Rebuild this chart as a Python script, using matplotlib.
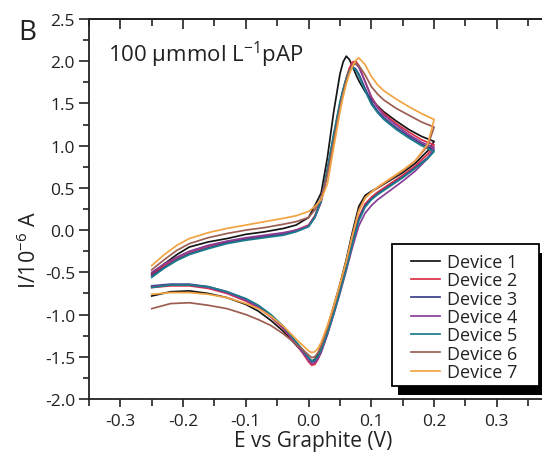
import matplotlib
matplotlib.use("Agg")
import matplotlib.pyplot as plt
from matplotlib.patches import Rectangle
from matplotlib.ticker import MultipleLocator, FormatStrFormatter

plt.rcParams['font.family'] = ['Open Sans', 'DejaVu Sans']
plt.rcParams['mathtext.fontset'] = 'custom'
plt.rcParams['mathtext.rm'] = 'Open Sans'
plt.rcParams['mathtext.it'] = 'Open Sans'
plt.rcParams['mathtext.default'] = 'regular'

# potentials (V) of the forward and reverse scans
forward_x = [-0.25, -0.23, -0.21, -0.19, -0.16, -0.13, -0.10, -0.07, -0.04, -0.02,
             0.0, 0.01, 0.02, 0.03, 0.04, 0.05, 0.055, 0.06, 0.065, 0.07,
             0.075, 0.08, 0.09, 0.10, 0.11, 0.12, 0.14, 0.16, 0.18, 0.20]
reverse_x = [0.20, 0.19, 0.17, 0.15, 0.13, 0.11, 0.10, 0.09, 0.08, 0.07,
             0.06, 0.05, 0.04, 0.03, 0.02, 0.015, 0.01, 0.005, 0.0, -0.01,
             -0.02, -0.04, -0.06, -0.08, -0.10, -0.13, -0.16, -0.19, -0.22, -0.25]

# currents (1e-6 A), forward scan
dev1_fwd = [-0.52, -0.40, -0.29, -0.20, -0.14, -0.10, -0.05, -0.02, 0.02, 0.06,
            0.15, 0.29, 0.44, 0.86, 1.40, 1.85, 1.99, 2.06, 2.02, 1.94,
            1.85, 1.77, 1.64, 1.55, 1.47, 1.40, 1.29, 1.19, 1.11, 1.05]
dev2_fwd = [-0.53, -0.42, -0.33, -0.26, -0.19, -0.14, -0.10, -0.07, -0.04, 0.0,
            0.06, 0.17, 0.36, 0.70, 1.10, 1.48, 1.65, 1.80, 1.92, 1.99,
            2.00, 1.95, 1.76, 1.58, 1.46, 1.38, 1.26, 1.16, 1.07, 1.01]
dev3_fwd = [-0.54, -0.44, -0.35, -0.28, -0.21, -0.15, -0.11, -0.08, -0.05, -0.01,
            0.05, 0.16, 0.36, 0.72, 1.12, 1.50, 1.66, 1.79, 1.89, 1.93,
            1.91, 1.85, 1.68, 1.52, 1.41, 1.33, 1.21, 1.11, 1.02, 0.95]
dev4_fwd = [-0.50, -0.40, -0.32, -0.25, -0.18, -0.13, -0.09, -0.06, -0.03, 0.0,
            0.05, 0.15, 0.33, 0.66, 1.05, 1.44, 1.62, 1.77, 1.89, 1.96,
            1.97, 1.93, 1.76, 1.57, 1.45, 1.36, 1.24, 1.13, 1.04, 0.98]
dev5_fwd = [-0.56, -0.45, -0.36, -0.29, -0.22, -0.16, -0.12, -0.09, -0.06, -0.02,
            0.04, 0.15, 0.35, 0.72, 1.14, 1.52, 1.67, 1.80, 1.89, 1.92,
            1.90, 1.83, 1.65, 1.49, 1.39, 1.31, 1.19, 1.09, 1.00, 0.93]
dev6_fwd = [-0.47, -0.35, -0.24, -0.16, -0.09, -0.04, 0.0, 0.03, 0.07, 0.10,
            0.15, 0.24, 0.38, 0.66, 1.05, 1.45, 1.62, 1.77, 1.88, 1.95,
            1.97, 1.95, 1.84, 1.70, 1.61, 1.54, 1.44, 1.36, 1.28, 1.22]
dev7_fwd = [-0.42, -0.29, -0.18, -0.10, -0.03, 0.02, 0.06, 0.10, 0.14, 0.17,
            0.22, 0.28, 0.36, 0.55, 0.98, 1.40, 1.58, 1.73, 1.85, 1.94,
            2.01, 2.04, 1.96, 1.82, 1.72, 1.65, 1.55, 1.46, 1.38, 1.31]

# currents (1e-6 A), reverse scan
dev1_rev = [1.05, 0.94, 0.79, 0.68, 0.59, 0.50, 0.46, 0.41, 0.28, -0.02,
            -0.35, -0.64, -0.90, -1.15, -1.38, -1.47, -1.53, -1.55, -1.52, -1.44,
            -1.36, -1.20, -1.07, -0.96, -0.88, -0.80, -0.75, -0.72, -0.73, -0.78]
dev2_rev = [1.01, 0.90, 0.76, 0.65, 0.55, 0.45, 0.39, 0.31, 0.15, -0.12,
            -0.42, -0.70, -0.97, -1.22, -1.44, -1.53, -1.59, -1.60, -1.56, -1.45,
            -1.35, -1.17, -1.03, -0.92, -0.84, -0.75, -0.69, -0.66, -0.66, -0.68]
dev3_rev = [0.95, 0.86, 0.74, 0.63, 0.53, 0.43, 0.37, 0.29, 0.13, -0.14,
            -0.44, -0.72, -0.98, -1.22, -1.43, -1.50, -1.55, -1.56, -1.52, -1.42,
            -1.33, -1.15, -1.01, -0.90, -0.82, -0.73, -0.67, -0.64, -0.64, -0.66]
dev4_rev = [0.98, 0.85, 0.70, 0.58, 0.47, 0.36, 0.29, 0.20, 0.05, -0.20,
            -0.48, -0.75, -1.00, -1.24, -1.45, -1.52, -1.57, -1.58, -1.54, -1.44,
            -1.34, -1.16, -1.02, -0.91, -0.83, -0.74, -0.68, -0.65, -0.65, -0.67]
dev5_rev = [0.93, 0.85, 0.73, 0.62, 0.52, 0.42, 0.36, 0.27, 0.11, -0.16,
            -0.46, -0.73, -0.99, -1.22, -1.42, -1.49, -1.54, -1.55, -1.51, -1.41,
            -1.32, -1.14, -1.00, -0.89, -0.81, -0.73, -0.67, -0.65, -0.65, -0.68]
dev6_rev = [1.22, 1.00, 0.82, 0.70, 0.60, 0.50, 0.45, 0.38, 0.24, -0.05,
            -0.37, -0.65, -0.92, -1.16, -1.37, -1.45, -1.50, -1.51, -1.48, -1.41,
            -1.35, -1.23, -1.13, -1.06, -1.00, -0.93, -0.89, -0.86, -0.87, -0.93]
dev7_rev = [1.31, 1.02, 0.82, 0.71, 0.61, 0.51, 0.45, 0.38, 0.22, -0.06,
            -0.37, -0.64, -0.90, -1.13, -1.33, -1.40, -1.44, -1.45, -1.43, -1.36,
            -1.29, -1.14, -1.02, -0.93, -0.87, -0.80, -0.76, -0.74, -0.74, -0.76]

labels = ['Device 1', 'Device 2', 'Device 3', 'Device 4', 'Device 5', 'Device 6', 'Device 7']
colors = ['#151515', '#dc2f45', '#3c3f86', '#8a3d98', '#1b7d8c', '#9c5e52', '#f2a443']
fwd = [dev1_fwd, dev2_fwd, dev3_fwd, dev4_fwd, dev5_fwd, dev6_fwd, dev7_fwd]
rev = [dev1_rev, dev2_rev, dev3_rev, dev4_rev, dev5_rev, dev6_rev, dev7_rev]

W, H = 542, 460
INK = '#222222'
fig = plt.figure(figsize=(W / 100, H / 100), dpi=100)
# the original is cropped on the right, so the axes run to the picture edge
ax = fig.add_axes([89 / W, 60 / H, 453 / W, 380 / H])

for lab, c, f, r in zip(labels, colors, fwd, rev):
    ax.plot(forward_x + reverse_x, f + r, color=c, lw=1.25, label=lab)

ax.set_xlim(-0.35, 0.372)
ax.set_ylim(-2.0, 2.5)
ax.xaxis.set_major_locator(MultipleLocator(0.1))
ax.xaxis.set_minor_locator(MultipleLocator(0.05))
ax.yaxis.set_major_locator(MultipleLocator(0.5))
ax.yaxis.set_minor_locator(MultipleLocator(0.25))
ax.xaxis.set_major_formatter(FormatStrFormatter('%.1f'))
ax.yaxis.set_major_formatter(FormatStrFormatter('%.1f'))

ax.spines['right'].set_visible(False)
for s in ['left', 'bottom', 'top']:
    ax.spines[s].set_linewidth(1.3)
    ax.spines[s].set_color(INK)

ax.tick_params(axis='x', which='both', bottom=True, top=False, direction='out',
               colors=INK, labelsize=12.5, width=1.2)
ax.tick_params(axis='x', which='major', length=6, pad=4)
ax.tick_params(axis='x', which='minor', length=5)
ax.tick_params(axis='y', which='both', left=True, right=False, direction='out',
               colors=INK, labelsize=12.5, width=1.2)
ax.tick_params(axis='y', which='major', length=7, pad=3)
ax.tick_params(axis='y', which='minor', length=4)

# top ticks point into the plot
top = ax.secondary_xaxis('top')
top.xaxis.set_major_locator(MultipleLocator(0.1))
top.xaxis.set_minor_locator(MultipleLocator(0.05))
top.tick_params(which='both', direction='in', labeltop=False, colors=INK, width=1.2)
top.tick_params(which='major', length=7)
top.tick_params(which='minor', length=5)
top.spines['top'].set_linewidth(1.3)
top.spines['top'].set_color(INK)

ax.set_xlabel('E vs Graphite (V)', fontsize=15, color=INK)
ax.xaxis.set_label_coords((313 - 89) / 453, (400 - 431) / 380)
ax.set_ylabel('I/10$^{-6}$ A', fontsize=15.5, color=INK)
ax.yaxis.set_label_coords((41 - 89) / 453, (400 - 250) / 380)

fig.text(18 / W, 1 - 33 / H, 'B', fontsize=20, color=INK, va='center')
fig.text(108 / W, 1 - 55 / H, '100 \u03bcmmol L$^{-1}$pAP', fontsize=16,
         color=INK, va='center')

# legend box with a solid black drop shadow
box = (392, 245, 539, 387)
shadow = Rectangle(((box[0] + 6) / W, 1 - (box[3] + 9) / H),
                   (box[2] - box[0]) / W, (box[3] - box[1]) / H,
                   transform=fig.transFigure, facecolor='black', edgecolor='none',
                   zorder=5, clip_on=False)
frame = Rectangle((box[0] / W, 1 - box[3] / H),
                  (box[2] - box[0]) / W, (box[3] - box[1]) / H,
                  transform=fig.transFigure, facecolor='white', edgecolor='black',
                  linewidth=1.3, zorder=5.5, clip_on=False)
ax.add_artist(shadow)
ax.add_artist(frame)

leg = ax.legend(loc='upper left', bbox_to_anchor=(411 / W, 1 - 254 / H),
                bbox_transform=fig.transFigure, borderaxespad=0, borderpad=0,
                fontsize=13, frameon=False, handlelength=1.6, handletextpad=0.42,
                labelspacing=0.02)
leg.set_zorder(6)
for t in leg.get_texts():
    t.set_color(INK)

fig.savefig('out.png', dpi=100)
